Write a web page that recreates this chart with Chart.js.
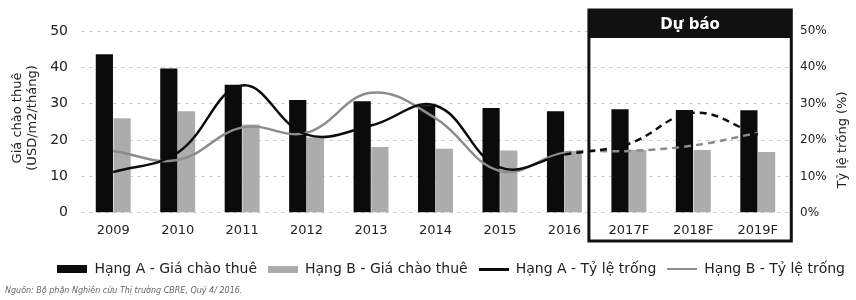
<!DOCTYPE html>
<html>
<head>
<meta charset="utf-8">
<script src="https://cdn.jsdelivr.net/npm/chart.js@4.4.0/dist/chart.umd.min.js"></script>
<style>
  html, body { margin: 0; padding: 0; background: #fff; }
  #wrap { width: 856px; height: 300px; position: relative; }
</style>
</head>
<body>
<div id="wrap"><canvas id="c"></canvas></div>
<script>
const categories = ['2009', '2010', '2011', '2012', '2013', '2014', '2015', '2016', '2017F', '2018F', '2019F'];
const rentA = [43.6, 39.7, 35.2, 31.0, 30.7, 29.6, 28.8, 27.9, 28.5, 28.3, 28.2];
const rentB = [26.0, 27.9, 24.3, 20.7, 18.1, 17.6, 17.1, 17.0, 17.3, 17.3, 16.7];
const vacancyA = [11.2, 16.5, 35.0, 21.5, 24.0, 29.5, 12.5, 16.0, 19.0, 27.5, 21.5];
const vacancyB = [17.0, 14.5, 23.5, 22.0, 33.0, 26.0, 11.5, 16.5, 17.0, 18.5, 22.0];
const leftTicks = [0, 10, 20, 30, 40, 50];
const rightTicks = ['0%', '10%', '20%', '30%', '40%', '50%'];
const seriesNames = ['Hạng A - Giá chào thuê', 'Hạng B - Giá chào thuê', 'Hạng A - Tỷ lệ trống', 'Hạng B - Tỷ lệ trống'];
const forecastLabel = 'Dự báo';
const leftTitle = ['Giá chào thuê', '(USD/m2/tháng)'];
const rightTitle = 'Tỷ lệ trống (%)';
const sourceNote = 'Nguồn: Bộ phận Nghiên cứu Thị trường CBRE, Quý 4/ 2016.';
const firstForecastIndex = 8;

const FONT = '"DejaVu Sans", "Liberation Sans", Arial, sans-serif';
const colA = '#0b0b0b';
const colB = '#acacac';
const colLineB = '#8c8c8c';

function swatch(w, h, color) {
  const c = document.createElement('canvas');
  c.width = w; c.height = h;
  const g = c.getContext('2d');
  g.fillStyle = color; g.fillRect(0, 0, w, h);
  return c;
}
const swatches = [swatch(30, 8, colA), swatch(30, 7, colB), swatch(30, 3, colA), swatch(30, 2, colLineB)];

const dashAfter = (ctx) => ctx.p0DataIndex >= firstForecastIndex - 1 ? [7, 5] : undefined;

const forecastPlugin = {
  id: 'forecast',
  afterDraw(chart) {
    const ctx = chart.ctx;
    const xs = chart.scales.x;
    const w = (xs.right - xs.left) / categories.length;
    const left = xs.getPixelForValue(firstForecastIndex) - 0.62 * w;
    const right = xs.getPixelForValue(categories.length - 1) + 0.52 * w;
    const top = 10, bottom = 241, headBottom = 38;
    ctx.save();
    ctx.fillStyle = '#111';
    ctx.fillRect(left, top, right - left, headBottom - top);
    ctx.strokeStyle = '#111';
    ctx.lineWidth = 3;
    ctx.strokeRect(left, top, right - left, bottom - top);
    ctx.fillStyle = '#fff';
    ctx.font = 'bold 15px ' + FONT;
    ctx.textAlign = 'center';
    ctx.textBaseline = 'middle';
    ctx.fillText(forecastLabel, (left + right) / 2, (top + headBottom) / 2 + 1);
    ctx.restore();

    // axis titles, reading bottom to top
    ctx.save();
    ctx.fillStyle = '#222';
    ctx.font = '13px ' + FONT;
    ctx.textAlign = 'center';
    ctx.textBaseline = 'middle';
    ctx.save();
    ctx.translate(18, 118); ctx.rotate(-Math.PI / 2); ctx.fillText(leftTitle[0], 0, 0);
    ctx.restore();
    ctx.save();
    ctx.translate(33, 118); ctx.rotate(-Math.PI / 2); ctx.fillText(leftTitle[1], 0, 0);
    ctx.restore();
    ctx.save();
    ctx.translate(843, 140); ctx.rotate(-Math.PI / 2); ctx.fillText(rightTitle, 0, 0);
    ctx.restore();
    ctx.restore();
  }
};

new Chart(document.getElementById('c'), {
  type: 'bar',
  data: {
    labels: categories,
    datasets: [
      { label: seriesNames[0], data: rentA, backgroundColor: colA, yAxisID: 'y', order: 2,
        categoryPercentage: 0.55, barPercentage: 0.97 },
      { label: seriesNames[1], data: rentB, backgroundColor: colB, yAxisID: 'y', order: 2,
        categoryPercentage: 0.55, barPercentage: 0.97 },
      { type: 'line', label: seriesNames[2], data: vacancyA, borderColor: colA, borderWidth: 2.5,
        yAxisID: 'y2', tension: 0.4, pointRadius: 0, order: 1, segment: { borderDash: dashAfter } },
      { type: 'line', label: seriesNames[3], data: vacancyB, borderColor: colLineB, borderWidth: 2.5,
        yAxisID: 'y2', tension: 0.4, pointRadius: 0, order: 1, segment: { borderDash: dashAfter } }
    ]
  },
  options: {
    responsive: true,
    maintainAspectRatio: false,
    animation: false,
    layout: { padding: { top: 31, left: 5, right: 0, bottom: 0 } },
    scales: {
      x: {
        grid: { display: false, drawTicks: false },
        border: { display: false },
        afterFit: (s) => { s.height = s.height + 3; },
        ticks: { color: '#222', font: { size: 13, family: FONT }, padding: 10 }
      },
      y: {
        position: 'left',
        min: 0, max: 50,
        afterBuildTicks: (s) => { s.ticks = leftTicks.map(v => ({ value: v })); },
        afterFit: (s) => { s.width = 76; },
        ticks: { color: '#222', font: { size: 14, family: FONT }, padding: 13 },
        grid: { color: '#d2d2d2', lineWidth: 1, drawTicks: false },
        border: { display: false, dash: [4, 4] }
      },
      y2: {
        position: 'right',
        min: 0, max: 50,
        afterBuildTicks: (s) => { s.ticks = leftTicks.map(v => ({ value: v })); },
        afterFit: (s) => { s.width = 66; },
        ticks: { color: '#222', font: { size: 12, family: FONT }, padding: 10,
          callback: (v, i) => rightTicks[i] },
        grid: { display: false, drawTicks: false },
        border: { display: false }
      }
    },
    plugins: {
      legend: {
        position: 'bottom',
        align: 'end',
        labels: {
          usePointStyle: true,
          pointStyleWidth: 30,
          boxHeight: 8,
          padding: 11,
          color: '#222',
          font: { size: 14, family: FONT },
          generateLabels: () => seriesNames.map((n, i) => ({
            text: n, pointStyle: swatches[i], fillStyle: 'transparent', strokeStyle: 'transparent',
            lineWidth: 0, hidden: false, datasetIndex: i, fontColor: '#222'
          }))
        }
      },
      subtitle: {
        display: true, position: 'bottom', align: 'start', text: sourceNote,
        color: '#666', font: { size: 8, style: 'italic', family: FONT },
        padding: { top: 0, bottom: 4 }
      },
      tooltip: { enabled: false }
    }
  },
  plugins: [forecastPlugin]
});
</script>
</body>
</html>
